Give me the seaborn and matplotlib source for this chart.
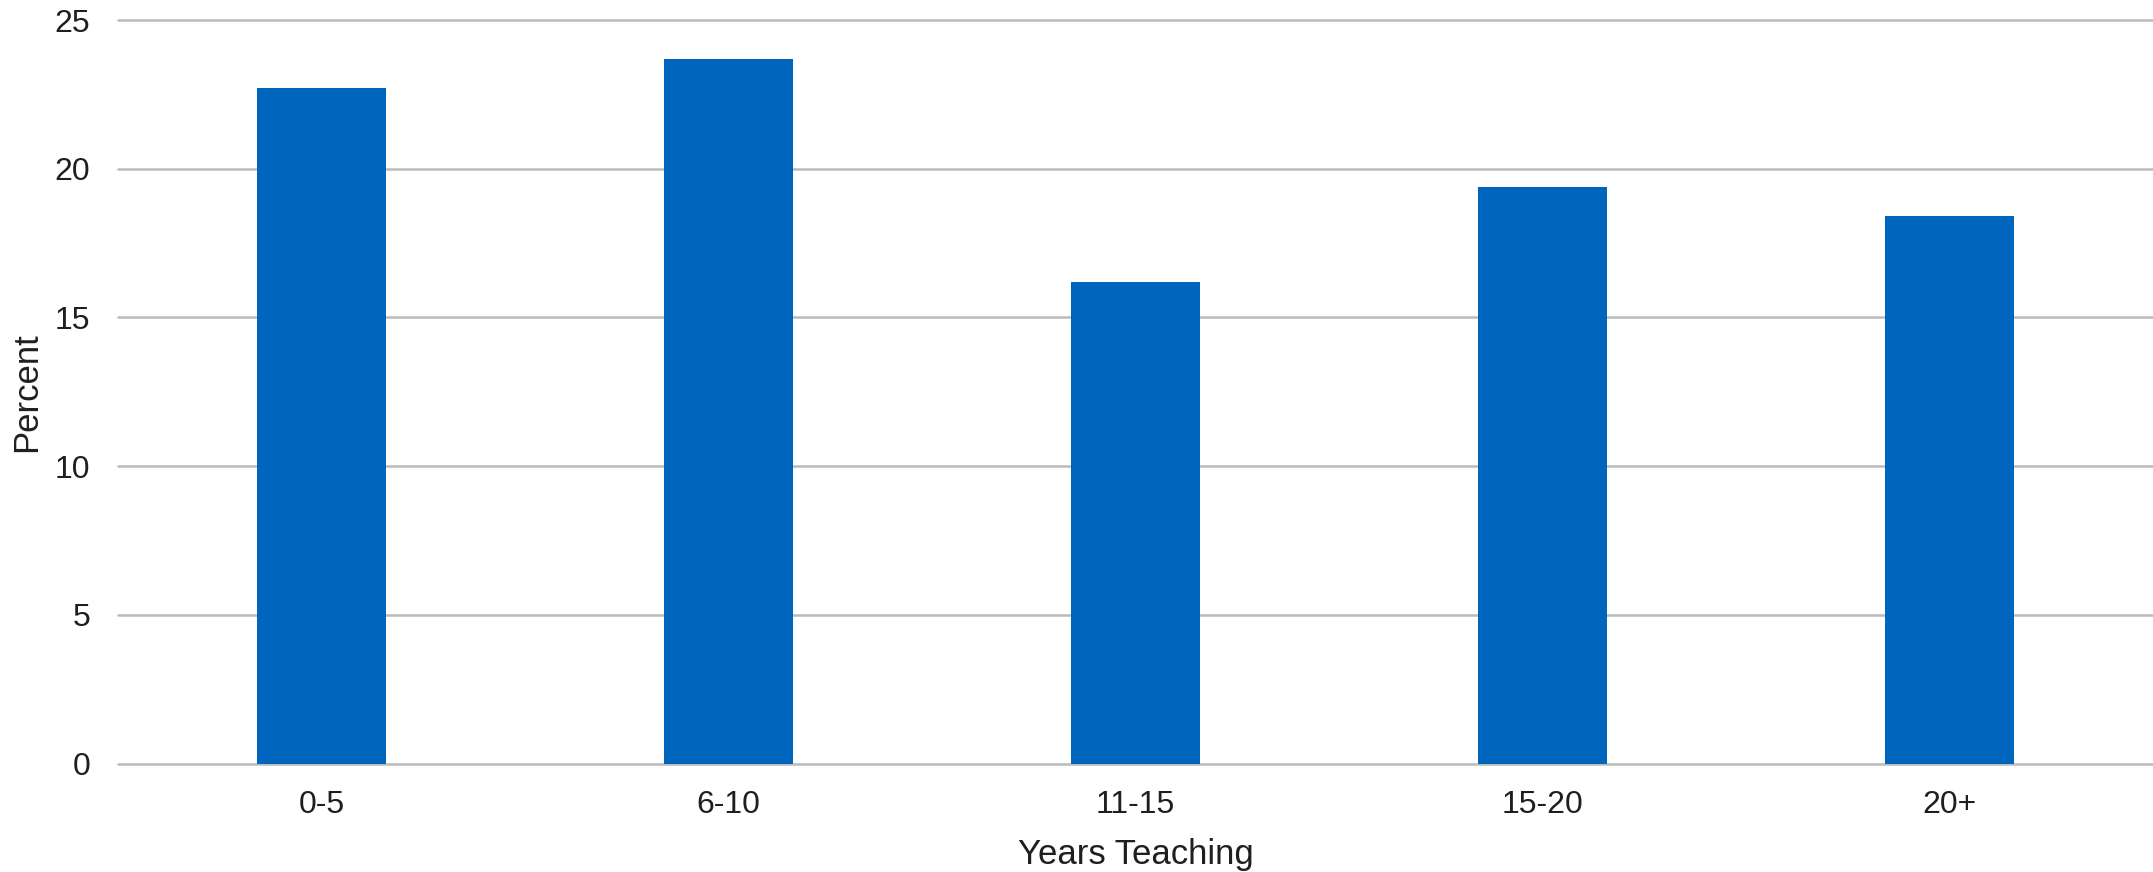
import matplotlib
matplotlib.use("Agg")
import matplotlib.pyplot as plt
import seaborn as sns
import pandas as pd

categories = ["0-5", "6-10", "11-15", "15-20", "20+"]
percent = [22.7, 23.7, 16.2, 19.4, 18.4]
y_ticks = [0, 5, 10, 15, 20, 25]

df = pd.DataFrame({"Years Teaching": categories, "Percent": percent})

sns.set_theme(style="white")
plt.rcParams["font.family"] = ["Liberation Sans", "DejaVu Sans"]

fig = plt.figure(figsize=(21.53, 8.72), dpi=100)
ax = fig.add_axes([118 / 2153, 1 - 763.7 / 872, (2153 - 118) / 2153, (763.7 - 20) / 872])

sns.barplot(data=df, x="Years Teaching", y="Percent", color="#0066BD",
            saturation=1, width=0.315, ax=ax, zorder=3, edgecolor="none")

ax.set_xlim(-0.5, len(categories) - 0.5)
ax.set_ylim(0, 25)
ax.set_yticks(y_ticks)
ax.set_yticklabels([str(t) for t in y_ticks])
ax.yaxis.grid(True, color="#BBBBBB", linewidth=1.8, zorder=0)
ax.xaxis.grid(False)
ax.set_axisbelow(True)
for gl in ax.get_ygridlines():
    gl.set_clip_on(False)
for s in ax.spines.values():
    s.set_visible(False)

txt = "#1f1f1f"
ax.tick_params(axis="x", length=0, pad=19, labelsize=23, labelcolor=txt)
ax.tick_params(axis="y", length=0, pad=20, labelsize=23, labelcolor=txt)
ax.set_xlabel("Years Teaching", fontsize=25, color=txt, labelpad=13)
ax.set_ylabel("Percent", fontsize=25, color=txt, labelpad=8)

fig.savefig("out.png", dpi=100, facecolor="white")
